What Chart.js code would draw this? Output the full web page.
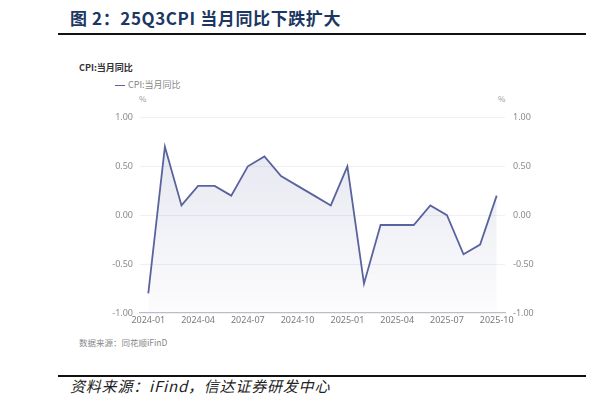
<!DOCTYPE html>
<html>
<head>
<meta charset="utf-8">
<script src="https://cdn.jsdelivr.net/npm/chart.js@4"></script>
<style>
	body { margin: 0; width: 602px; height: 406px; background: #fff; position: relative; overflow: hidden; font-family: "Noto Sans CJK SC", "Noto Sans", sans-serif; }
	.abs { position: absolute; white-space: nowrap; }
	#title { left: 70px; top: 5px; font-size: 17px; font-weight: bold; color: #1d3763; letter-spacing: 0.6px; }
	.rule { left: 58px; width: 528px; background: #111; }
	#subtitle { left: 79px; top: 61px; font-size: 9px; font-weight: bold; color: #333; }
	#legend { left: 115px; top: 78px; font-size: 9px; color: #888; }
	#legend span { display: inline-block; width: 10px; height: 1.5px; background: #5b639e; vertical-align: middle; margin-right: 3px; }
	.unit { top: 93px; font-size: 8px; color: #999; }
	#source { left: 79px; top: 336px; font-size: 8.5px; color: #888; }
	#note { left: 70px; top: 375px; font-size: 15px; font-style: italic; color: #222; letter-spacing: 0.8px; }
	#wrap { left: 60px; top: 104px; width: 490px; height: 230px; }
</style>
</head>
<body>
<div class="abs" id="title">图 2：25Q3CPI 当月同比下跌扩大</div>
<div class="abs rule" style="top:33px;height:2px"></div>
<div class="abs" id="subtitle">CPI:当月同比</div>
<div class="abs" id="legend"><span></span>CPI:当月同比</div>
<div class="abs unit" style="left:139px">%</div>
<div class="abs unit" style="left:498px">%</div>
<div class="abs" id="wrap"><canvas id="cpiChart"></canvas></div>
<div class="abs" id="source">数据来源：同花顺iFinD</div>
<div class="abs rule" style="top:375px;height:1.5px"></div>
<div class="abs" id="note">资料来源：iFind，信达证券研发中心</div>

<script>
// monthly CPI yoy, 2024-01 .. 2025-10
const months = [
	"2024-01","2024-02","2024-03","2024-04","2024-05","2024-06",
	"2024-07","2024-08","2024-09","2024-10","2024-11","2024-12",
	"2025-01","2025-02","2025-03","2025-04","2025-05","2025-06",
	"2025-07","2025-08","2025-09","2025-10"
];
const cpiYoy = [
	-0.8, 0.7, 0.1, 0.3, 0.3, 0.2,
	0.5, 0.6, 0.4, 0.3, 0.2, 0.1,
	0.5, -0.7, -0.1, -0.1, -0.1, 0.1,
	0.0, -0.4, -0.3, 0.2
];
const yTicks = [-1, -0.5, 0, 0.5, 1];

const lineColor = "#5b639e";
let gradient, gradH;

function getFill(ctx, chartArea) {
	const h = chartArea.bottom - chartArea.top;
	if (!gradient || gradH !== h) {
		gradH = h;
		gradient = ctx.createLinearGradient(0, chartArea.top, 0, chartArea.bottom);
		gradient.addColorStop(0, "rgba(91, 99, 158, 0.17)");
		gradient.addColorStop(1, "rgba(91, 99, 158, 0.02)");
	}
	return gradient;
}

const tickFont = { family: "'Noto Sans', 'Open Sans', sans-serif", size: 9 };

function yAxis(pos, width, pad) {
	return {
		position: pos,
		min: -1,
		max: 1,
		afterBuildTicks: (s) => { s.ticks = yTicks.map((v) => ({ value: v })); },
		afterFit: (s) => { s.width = width; },
		ticks: {
			padding: pad,
			color: "#8a8a8a",
			font: tickFont,
			callback: (v) => v.toFixed(2),
		},
		border: { display: false },
		grid: {
			display: pos === "left",
			color: (c) => c.tick && c.tick.value === -1 ? "transparent" : "#f0f0f2",
			lineWidth: 1,
			drawTicks: false,
		},
	};
}

new Chart(document.getElementById("cpiChart"), {
	type: "line",
	data: {
		labels: months,
		datasets: [
			{
				data: cpiYoy,
				borderColor: lineColor,
				borderWidth: 1.8,
				pointRadius: 0,
				tension: 0,
				fill: "start",
				backgroundColor: function (context) {
					const { ctx, chartArea } = context.chart;
					if (!chartArea) return;
					return getFill(ctx, chartArea);
				},
				yAxisID: "y",
			},
		],
	},
	options: {
		responsive: true,
		maintainAspectRatio: false,
		animation: false,
		layout: { padding: { top: 12, left: 0, right: 0, bottom: 0 } },
		plugins: {
			legend: { display: false },
			tooltip: { enabled: false },
		},
		scales: {
			x: {
				offset: true,
				afterFit: (s) => { s.height = 21; },
				ticks: {
					autoSkip: false,
					maxRotation: 0,
					padding: 2,
					color: "#7a7a7a",
					font: tickFont,
					callback: function (v, i) { return i % 3 === 0 ? this.getLabelForValue(v) : ""; },
				},
				grid: { display: false, drawTicks: false },
				border: { display: true, color: "#b8bfcc", width: 1.2 },
			},
			y: yAxis("left", 80, 7),
			y2: yAxis("right", 45, 8),
		},
	},
});
</script>
</body>
</html>
